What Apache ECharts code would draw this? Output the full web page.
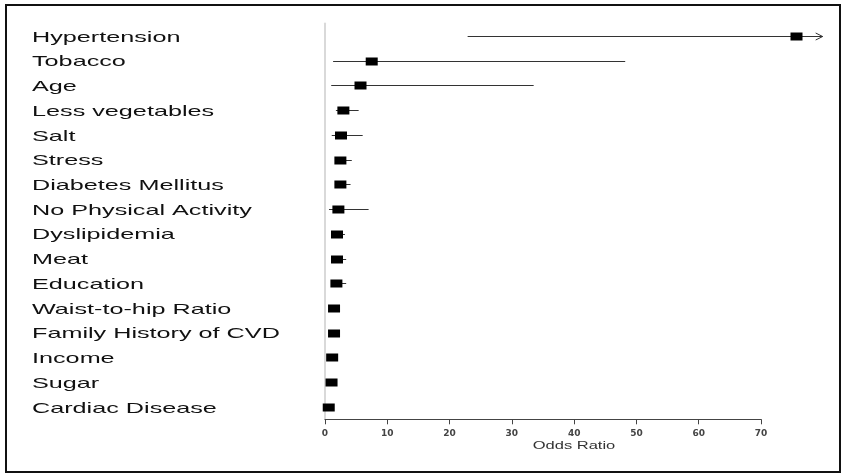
<!DOCTYPE html>
<html>
<head>
<meta charset="utf-8">
<script src="https://cdn.jsdelivr.net/npm/echarts@6/dist/echarts.min.js"></script>
<style>
html,body{margin:0;padding:0;background:#fff;}
#chart{width:843px;height:474px;}
</style>
</head>
<body>
<div id="chart"></div>
<script>
const categories = ['Hypertension','Tobacco','Age','Less vegetables','Salt','Stress','Diabetes Mellitus','No Physical Activity','Dyslipidemia','Meat','Education','Waist-to-hip Ratio','Family History of CVD','Income','Sugar','Cardiac Disease'];
const oddsRatio = [75.7, 7.5, 5.7, 2.95, 2.57, 2.47, 2.47, 2.15, 1.93, 1.93, 1.83, 1.45, 1.45, 1.15, 1.05, 0.6];
const ciLower   = [22.9, 1.3, 1.0, 1.75, 1.08, 1.6, 1.6, 0.64, 1.2, 1.2, 1.1, 0.9, 0.9, 0.7, 0.7, 0.3];
const ciUpper   = [79.9, 48.2, 33.5, 5.4, 6.05, 4.3, 4.1, 7.0, 3.2, 3.4, 3.4, 2.2, 2.2, 1.9, 1.7, 1.3];
const xTickValues = [0, 10, 20, 30, 40, 50, 60, 70];
const xAxisTitle = 'Odds Ratio';

const axisMin = xTickValues[0];
const axisMax = xTickValues[xTickValues.length - 1];
const tickStep = xTickValues[1] - xTickValues[0];

const chart = echarts.init(document.getElementById('chart'), null, {renderer: 'canvas'});

const markerData = categories.map((c, i) => [i, oddsRatio[i], ciLower[i], ciUpper[i]]);
const labelData = categories.map((c, i) => [i, 0]);

function renderMarker(params, api) {
  const i = api.value(0);
  const p = api.coord([api.value(1), i]);
  const pl = api.coord([api.value(2), i]);
  const ph = api.coord([api.value(3), i]);
  const y = Math.round(p[1]) + 0.5;
  const children = [
    {type: 'line', shape: {x1: pl[0], y1: y, x2: ph[0], y2: y}, style: {stroke: '#333', lineWidth: 1}},
    {type: 'rect', shape: {x: p[0] - 6, y: y - 4, width: 12, height: 8}, style: {fill: '#000'}}
  ];
  if (api.value(3) > axisMax) {
    children.push({type: 'polyline', shape: {points: [[ph[0] - 7, y - 3.5], [ph[0], y], [ph[0] - 7, y + 3.5]]}, style: {stroke: '#333', fill: null, lineWidth: 1}});
  }
  return {type: 'group', children: children};
}

function renderLabel(params, api) {
  const i = api.value(0);
  const p = api.coord([0, i]);
  return {
    type: 'text',
    x: 32,
    y: p[1] + 1.5,
    scaleX: 1.68,
    style: {
      text: categories[i],
      fill: '#111',
      fontSize: 15,
      fontFamily: '"Liberation Sans", Arial, sans-serif',
      align: 'left', verticalAlign: 'middle',
      textAlign: 'left', textVerticalAlign: 'middle'
    }
  };
}

const option = {
  backgroundColor: '#fff',
  animation: false,
  grid: {left: 325, right: 82, top: 23.6, bottom: 54.7, containLabel: false},
  xAxis: {
    type: 'value',
    min: axisMin, max: axisMax, interval: tickStep,
    axisLine: {show: true, lineStyle: {color: '#444', width: 1}},
    axisTick: {show: true, length: 5, lineStyle: {color: '#444'}},
    axisLabel: {show: true, margin: 10, color: '#444', fontSize: 9, fontWeight: 'bold', fontFamily: '"DejaVu Sans", sans-serif'},
    splitLine: {show: false}
  },
  yAxis: {
    type: 'category',
    data: categories,
    inverse: true,
    axisLine: {show: true, lineStyle: {color: '#d9d9d9', width: 2}},
    axisTick: {show: false},
    axisLabel: {show: false},
    splitLine: {show: false}
  },
  graphic: [
    {type: 'rect', shape: {x: 6, y: 5, width: 834, height: 467}, style: {fill: null, stroke: '#111', lineWidth: 2}, silent: true},
    {type: 'text', x: 574, y: 446, scaleX: 1.5, style: {text: xAxisTitle, fill: '#333', fontSize: 11, fontFamily: '"Liberation Sans", Arial, sans-serif', align: 'center', verticalAlign: 'middle', textAlign: 'center', textVerticalAlign: 'middle'}}
  ],
  series: [
    {type: 'custom', clip: false, renderItem: renderMarker, data: markerData, encode: {x: [1, 2, 3], y: 0}, silent: true},
    {type: 'custom', clip: false, renderItem: renderLabel, data: labelData, encode: {x: 1, y: 0}, silent: true}
  ]
};
chart.setOption(option);
</script>
</body>
</html>
